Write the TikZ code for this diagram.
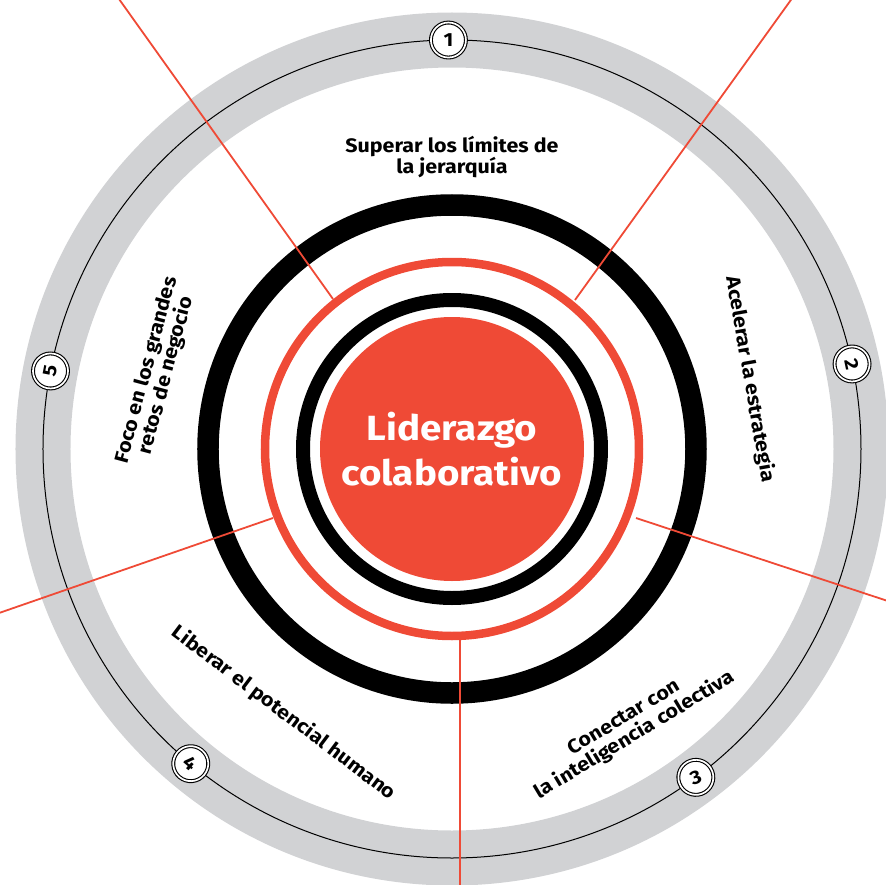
\documentclass[tikz,border=0pt]{standalone}
\usepackage{fontspec}
\setmainfont[FakeStretch=1.1]{Fira Sans}
\usetikzlibrary{positioning}
\definecolor{liderred}{RGB}{239, 74, 54}
\definecolor{ringgray}{RGB}{209, 210, 212}

\begin{document}
\begin{tikzpicture}[
    x=1pt, y=1pt,
    numcircle/.style={circle, draw=black, fill=white, line width=1.1pt, double=white,
                      double distance=1.7pt, minimum size=35pt, inner sep=0pt,
                      font=\fontsize{19}{19}\selectfont\bfseries},
    label/.style={font=\fontsize{19.5}{20.5}\selectfont\bfseries, align=center, text=black},
    divider/.style={line width=1.8pt, color=liderred},
]
    \useasboundingbox (-452,-435) rectangle (434,449);
    \clip (-452,-435) rectangle (434,449);

    % Outer gray ring and track
    \draw[ringgray, line width=55pt] (0,0) circle (409);
    \draw[black, line width=1pt] (0,0) circle (409);

    % Rings
    \draw[black, line width=21.5pt] (0,0) circle (244);
    \draw[liderred, line width=8.5pt] (0,0) circle (187);
    \draw[black, line width=14pt] (0,0) circle (149);

    % Center
    \node[circle, fill=liderred, minimum size=264pt, inner sep=0pt, text=white,
          align=center, font=\fontsize{35}{45}\selectfont\bfseries] (core)
          at (0,0) {Liderazgo\\colaborativo};

    % Dividers
    \draw[divider] (-119,150) -- (-348,471);
    \draw[divider] (123,149) -- (354,470);
    \draw[divider] (184,-69) -- (454,-158);
    \draw[divider] (8,-188) -- (8,-460);
    \draw[divider] (-179,-69) -- (-476,-172);

    % Numbers
    \node[numcircle] (n1) at (90.5:409) {1};
    \node[numcircle, rotate=-78] (n2) at (12:409) {2};
    \node[numcircle, rotate=20] (n3) at (-53.4:409) {3};
    \node[numcircle, rotate=-40] (n4) at (230.3:409) {4};
    \node[numcircle, rotate=79] (n5) at (169:409) {5};

    % Labels
    \node[label] (superar) at (0,292) {Superar los límites de\\la jerarquía};
    \node[label, rotate=-80] (acelerar) at (13.2:306) {Acelerar la estrategia};
    \node[label, rotate=31] (conectar) at (-57.4:330) {Conectar con\\la inteligencia colectiva};
    \node[label, rotate=-37] (liberar) at (237.5:313) {Liberar el potencial humano};
    \node[label, rotate=75] (foco) at (165.5:305) {Foco en los grandes\\retos de negocio};
\end{tikzpicture}
\end{document}
